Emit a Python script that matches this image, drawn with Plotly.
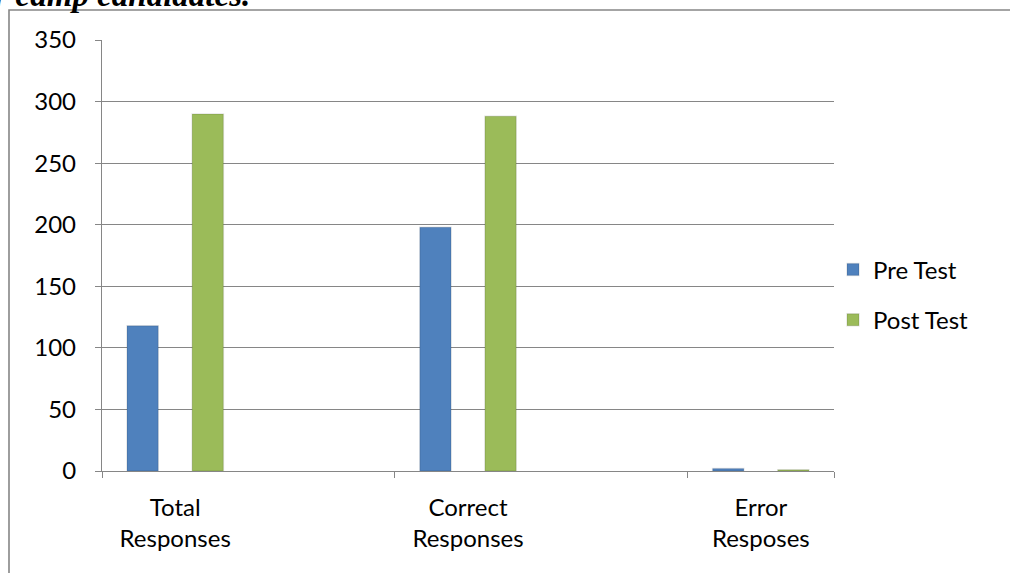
import plotly.graph_objects as go

categories = ["Total<br>Responses", " ", "Correct<br>Responses", "  ", "Error<br>Resposes"]
bar_categories = ["Total<br>Responses", "Correct<br>Responses", "Error<br>Resposes"]
pre_test = [118, 198, 2]
post_test = [290, 288, 1]
series_names = ["Pre Test", "Post Test"]
colors = ["#4F81BD", "#9BBB59"]

W, H = 1010, 573
L, R, T, B = 102, 834, 40, 471  # plot area in page pixels

fig = go.Figure()
for name, vals, col in zip(series_names, [pre_test, post_test], colors):
    fig.add_trace(go.Bar(
        x=bar_categories, y=vals, name=name, legendgroup=name,
        marker=dict(color=col, line=dict(color="rgba(0,0,0,0.10)", width=1.5)),
    ))

gray = "#868686"
font_main = "Lato, 'Open Sans', sans-serif"

def sx(px):
    return (px - L) / (R - L)

def sy(py):
    return (B - py) / (B - T)

fig.update_layout(
    width=W, height=H,
    margin=dict(l=L, r=W - R, t=T, b=H - B, pad=0),
    paper_bgcolor="white", plot_bgcolor="white",
    barmode="group", bargap=0.11, bargroupgap=0.52,
    font=dict(family=font_main, size=24, color="#000000"),
    showlegend=True,
    legend=dict(
        x=sx(833), y=sy(295), xanchor="left", yanchor="middle",
        font=dict(family=font_main, size=24, color="#000000"),
        tracegroupgap=16, bgcolor="rgba(0,0,0,0)", itemwidth=30,
    ),
    xaxis=dict(
        type="category", categoryorder="array", categoryarray=categories,
        range=[-0.5, 4.5], tickmode="array", tickvals=bar_categories, ticktext=bar_categories,
        tickson="boundaries", ticks="outside", ticklen=6, tickcolor=gray, tickwidth=1,
        showline=True, linecolor=gray, linewidth=1.3, showgrid=False, zeroline=False,
        tickfont=dict(family=font_main, size=24), ticklabelstandoff=15,
    ),
    yaxis=dict(
        range=[0, 350], dtick=50, tick0=0,
        ticks="outside", ticklen=6, tickcolor=gray, tickwidth=1,
        showline=True, linecolor=gray, linewidth=1.3,
        showgrid=True, gridcolor=gray, gridwidth=1, zeroline=False,
        tickfont=dict(family=font_main, size=24), ticklabelstandoff=14,
    ),
    shapes=[dict(
        type="rect", xref="paper", yref="paper", layer="below",
        x0=sx(9), x1=sx(1040),
        y0=sy(620), y1=sy(10),
        line=dict(color=gray, width=1.6), fillcolor="rgba(0,0,0,0)",
    )],
    annotations=[dict(
        text="<b><i>for camp candidates.</i></b>", xref="paper", yref="paper",
        x=sx(252), y=sy(-5), xanchor="right", yanchor="middle",
        showarrow=False, font=dict(family="Liberation Serif", size=33, color="#000000"),
    )],
)

fig.write_html(
    "out.html",
    config={"displayModeBar": False},
    post_script="document.body.style.margin='0';document.body.style.overflow='hidden';",
)
